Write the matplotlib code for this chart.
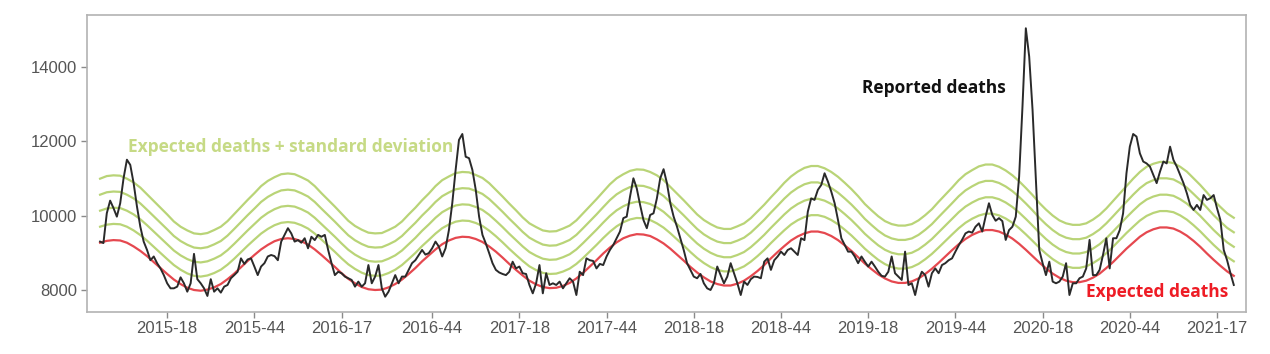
import numpy as np
import matplotlib
matplotlib.use('Agg')
import matplotlib.pyplot as plt

# week index 0 = 2015-W01 (2015 has 53 ISO weeks, 2020 too)
first_week = -3

# weekly reported deaths
reported = [
    9300, 9260, 10060, 10400, 10200, 9970, 10330, 11000, 11500, 11360,
    10870, 10240, 9700, 9300, 9075, 8800, 8900, 8720, 8580, 8400,
    8180, 8045, 8045, 8090, 8340, 8180, 7955, 8180, 8970, 8290,
    8180, 8045, 7840, 8290, 7955, 8045, 7930, 8090, 8135, 8315,
    8400, 8490, 8850, 8700, 8820, 8850, 8630, 8400, 8630, 8720,
    8900, 8940, 8910, 8800, 9300, 9480, 9660, 9520, 9300, 9340,
    9270, 9390, 9120, 9430, 9340, 9480, 9430, 9480, 9075, 8720,
    8400, 8490, 8450, 8360, 8315, 8270, 8090, 8225, 8090, 8180,
    8670, 8180, 8360, 8670, 8045, 7820, 7955, 8180, 8400, 8180,
    8360, 8360, 8540, 8720, 8800, 8940, 9075, 8950, 8990, 9120,
    9300, 9165, 8900, 9120, 9610, 10330, 11225, 12030, 12190, 11580,
    11540, 11225, 10690, 9970, 9480, 9250, 8990, 8720, 8540, 8470,
    8430, 8400, 8490, 8760, 8580, 8630, 8450, 8430, 8135, 7910,
    8180, 8670, 7910, 8450, 8135, 8180, 8135, 8225, 8045, 8180,
    8315, 8225, 7865, 8490, 8400, 8850, 8800, 8780, 8580, 8700,
    8670, 8900, 9075, 9210, 9390, 9570, 9930, 9970, 10510, 11000,
    10730, 10285, 9880, 9660, 10015, 10060, 10460, 11000, 11245, 10870,
    10330, 9970, 9700, 9390, 9075, 8720, 8540, 8360, 8315, 8430,
    8180, 8045, 8000, 8180, 8630, 8400, 8180, 8360, 8720, 8450,
    8180, 7865, 8225, 8135, 8290, 8360, 8350, 8315, 8760, 8850,
    8540, 8800, 8900, 9030, 8940, 9075, 9120, 9030, 8940, 9390,
    9340, 10105, 10460, 10420, 10690, 10820, 11135, 10910, 10640, 10330,
    9880, 9390, 9210, 9030, 9030, 8900, 8720, 8900, 8760, 8630,
    8760, 8630, 8490, 8380, 8360, 8490, 8900, 8450, 8360, 8270,
    9030, 8135, 8180, 7865, 8270, 8490, 8400, 8090, 8450, 8580,
    8450, 8670, 8720, 8800, 8850, 9030, 9200, 9350, 9520, 9570,
    9540, 9700, 9790, 9570, 9970, 10330, 10015, 9860, 9930, 9850,
    9345, 9610, 9700, 9970, 11045, 12930, 15030, 14270, 12840, 10960,
    9075, 8720, 8400, 8760, 8225, 8180, 8225, 8360, 8720, 7865,
    8180, 8180, 8315, 8360, 8580,
    9345, 8400, 8400, 8540, 8940, 9390, 8580, 9390, 9390, 9610,
    10060, 11135, 11850, 12190, 12120, 11670, 11450, 11400, 11315, 11090,
    10870, 11180, 11450, 11400, 11850, 11495, 11315, 11090, 10870, 10600,
    10285, 10150, 10285, 10150, 10550, 10420, 10465, 10550, 10195, 9880,
    9075, 8800, 8450, 8135,
]

# expected deaths and standard deviation, read every 2 weeks
expected = [
    9270, 9320, 9340, 9330, 9270, 9170, 9050, 8910, 8750, 8590, 8430, 8280, 8160,
    8060, 8000, 7980, 8010, 8070, 8160, 8290, 8440, 8610, 8780, 8940, 9090, 9210,
    9310, 9370, 9390, 9370, 9310, 9220, 9090, 8940, 8780, 8620, 8450, 8300, 8180,
    8080, 8020, 8000, 8010, 8070, 8160, 8280, 8430, 8590, 8770, 8930, 9090, 9230,
    9330, 9400, 9430, 9420, 9370, 9290, 9170, 9030, 8870, 8700, 8540, 8390, 8250,
    8150, 8080, 8050, 8060, 8110, 8190, 8310, 8460, 8630, 8800, 8980, 9140, 9280,
    9390, 9460, 9500, 9490, 9450, 9360, 9250, 9110, 8950, 8790, 8620, 8470, 8340,
    8230, 8160, 8120, 8120, 8170, 8250, 8370, 8510, 8670, 8850, 9020, 9180, 9330,
    9440, 9520, 9570, 9570, 9530, 9450, 9340, 9200, 9050, 8880, 8710, 8560, 8420,
    8310, 8230, 8190, 8190, 8230, 8310, 8430, 8570, 8730, 8900, 9070, 9230, 9370,
    9480, 9560, 9610, 9610, 9570, 9490, 9380, 9240, 9080, 8910, 8740, 8580, 8440,
    8330, 8250, 8210, 8210, 8250, 8330, 8440, 8590, 8750, 8930, 9110, 9270, 9430,
    9550, 9630, 9680, 9680, 9650, 9570, 9460, 9320, 9160, 8980, 8810, 8650, 8500,
    8380,
]
std_dev = [
    430, 435, 435, 435, 430, 430, 425, 415, 410, 405, 400, 390, 385,
    385, 380, 380, 380, 385, 385, 390, 400, 405, 410, 415, 425, 430,
    430, 435, 435, 435, 430, 430, 425, 415, 410, 405, 400, 390, 385,
    385, 380, 380, 380, 385, 385, 390, 400, 405, 410, 415, 425, 430,
    430, 435, 435, 435, 430, 430, 425, 415, 410, 405, 400, 390, 385,
    385, 380, 380, 380, 385, 385, 390, 400, 405, 410, 415, 425, 430,
    430, 435, 435, 435, 430, 430, 425, 415, 410, 405, 400, 390, 385,
    385, 380, 380, 380, 385, 385, 390, 400, 405, 410, 415, 425, 430,
    435, 440, 440, 440, 435, 430, 425, 420, 415, 410, 400, 395, 390,
    385, 385, 385, 385, 385, 390, 395, 400, 410, 415, 420, 430, 435,
    435, 440, 440, 440, 435, 430, 425, 420, 415, 410, 400, 395, 390,
    385, 385, 385, 385, 385, 390, 395, 400, 410, 415, 420, 430, 435,
    440, 440, 440, 440, 440, 435, 430, 420, 415, 410, 400, 395, 390,
    390,
]
n_sd_lines = 4

tick_weeks = [17, 43, 69, 96, 122, 148, 174, 200, 226, 252, 278, 304, 330]
tick_labels = ['2015-18', '2015-44', '2016-17', '2016-44', '2017-18', '2017-44',
               '2018-18', '2018-44', '2019-18', '2019-44', '2020-18', '2020-44', '2021-17']
y_ticks = [8000, 10000, 12000, 14000]

weeks = first_week + np.arange(len(reported))
weeks_exp = first_week + 2 * np.arange(len(expected))
expected = np.array(expected)
std_dev = np.array(std_dev)

fig = plt.figure(figsize=(12.7, 3.54), dpi=100)
ax = fig.add_axes([0.0685, 0.1195, 0.9125, 0.8385])

for k in range(n_sd_lines, 0, -1):
    ax.plot(weeks_exp, expected + k * std_dev, color='#b9d477', lw=1.6, zorder=2)
ax.plot(weeks_exp, expected, color='#e5484f', lw=1.6, zorder=3)
ax.plot(weeks, reported, color='#2a2a2a', lw=1.4, zorder=4)

ax.set_xlim(-6.9, 338.6)
ax.set_ylim(7417, 15390)
ax.set_xticks(tick_weeks)
ax.set_xticklabels(tick_labels)
ax.set_yticks(y_ticks)

for spine in ax.spines.values():
    spine.set_color('#b3b3b3')
    spine.set_linewidth(1.2)
ax.tick_params(axis='both', colors='#8a8a8a', length=4, width=1, labelsize=12,
               labelcolor='#555555', pad=3)
for label in ax.get_xticklabels() + ax.get_yticklabels():
    label.set_family('Liberation Sans')

ax.text(5.3, 11844, 'Expected deaths + standard deviation', color='#c6da85',
        fontsize=12.5, fontweight='bold', family='Open Sans', va='center', ha='left')
ax.text(224.1, 13430, 'Reported deaths', color='#111111',
        fontsize=12.5, fontweight='bold', family='Open Sans', va='center', ha='left')
ax.text(290.9, 7946, 'Expected deaths', color='#ee1c25',
        fontsize=12.5, fontweight='bold', family='Open Sans', va='center', ha='left')

fig.savefig('out.png', dpi=100)
